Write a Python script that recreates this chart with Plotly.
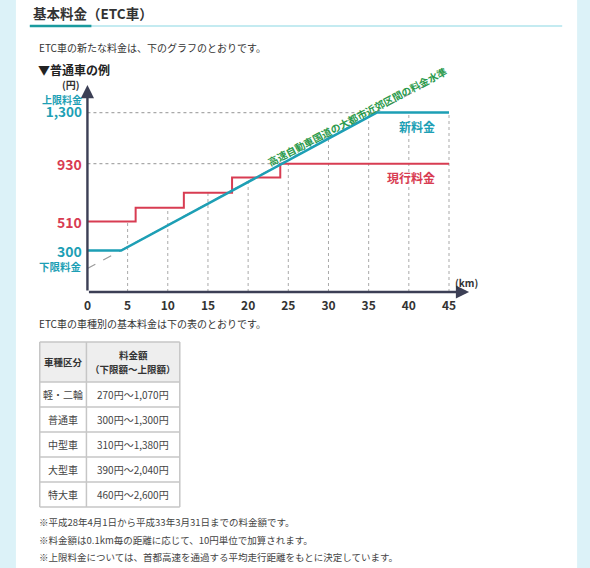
import numpy as np
import plotly.graph_objects as go

W, H = 590, 568

# 普通車の料金（グラフ）
new_km = [0, 4.2, 36, 45]
new_fee = [300, 300, 1300, 1300]
cur_km = [0, 6, 12, 18, 24, 45]
cur_fee = [510, 610, 720, 830, 930, 930]
guide_km = [0, 45]
guide_fee = [170, 1590]
grid_km = [5, 10, 15, 20, 25, 30, 35, 40, 45]
x_ticks = [0, 5, 10, 15, 20, 25, 30, 35, 40, 45]

# 車種別の基本料金（表）
vehicle_types = ["軽・二輪", "普通車", "中型車", "大型車", "特大車"]
fee_ranges = ["270円～1,070円", "300円～1,300円", "310円～1,380円",
              "390円～2,040円", "460円～2,600円"]

notes = [
    "※平成28年4月1日から平成33年3月31日までの料金額です。",
    "※料金額は0.1km毎の距離に応じて、10円単位で加算されます。",
    "※上限料金については、首都高速を通過する平均走行距離をもとに決定しています。",
]

TEAL = "#1d9fb5"
RED = "#d83c52"
GREEN = "#2b9a4c"
AXIS = "#3c3f55"
GRID = "#a9a9a9"
TEXT = "#333333"
FONT = "Noto Sans CJK JP"

KM_PX, YEN_PX = 8.09, 0.138
X_MAX, Y_MAX = 47.5, 1500


def fx(px):
    return px / W


def fy(py):
    return 1 - py / H


def step_value(km):
    i = np.searchsorted(cur_km, km, side="right") - 1
    return cur_fee[min(i, len(cur_fee) - 1)]


def page_text(px, py, text, size=10, color=TEXT, bold=False, xanchor="left"):
    return dict(x=fx(px), y=fy(py), xref="paper", yref="paper", text=text,
                showarrow=False, xanchor=xanchor, yanchor="middle",
                font=dict(size=size, color=color, family=FONT,
                          weight="bold" if bold else "normal"))


fig = go.Figure()

# 縦の点線（各距離の料金まで）
tops = [max(np.interp(k, new_km, new_fee), step_value(k)) for k in grid_km]
gx, gy = [], []
for k, t in zip(grid_km, tops):
    gx += [k, k, None]
    gy += [0, t, None]
fig.add_trace(go.Scatter(x=gx, y=gy, mode="lines", hoverinfo="skip",
                         line=dict(color=GRID, width=1, dash="dot")))

# 横の点線（上限 1,300 と 930）
cap_km = new_km[new_fee.index(max(new_fee))]
old_cap_km = cur_km[cur_fee.index(max(cur_fee))]
fig.add_trace(go.Scatter(
    x=[0, cap_km, None, 0, old_cap_km],
    y=[max(new_fee), max(new_fee), None, max(cur_fee), max(cur_fee)],
    mode="lines", hoverinfo="skip",
    line=dict(color=GRID, width=1.2, dash="dot")))

# 大都市近郊区間の料金水準
fig.add_trace(go.Scatter(x=guide_km, y=guide_fee, mode="lines", hoverinfo="skip",
                         line=dict(color="#9a9a9a", width=1.2, dash="dash")))

# 現行料金
fig.add_trace(go.Scatter(x=cur_km, y=cur_fee, mode="lines", line_shape="hv",
                         line=dict(color=RED, width=2)))
# 新料金
fig.add_trace(go.Scatter(x=new_km, y=new_fee, mode="lines",
                         line=dict(color=TEAL, width=2.5)))

ann = []
shapes = []

# 軸の矢印
for x, y in [(X_MAX, 0), (0, Y_MAX)]:
    ann.append(dict(x=x, y=y, ax=0, ay=0, xref="x", yref="y", axref="x", ayref="y",
                    text="", showarrow=True, arrowhead=2, arrowsize=1.1,
                    arrowwidth=2.4, arrowcolor=AXIS))

# y 軸ラベル（上限料金と 1,300 は 2 行で 1 つの注記に）
cap_label = "上限料金<br><span style='font-size:13.5px'>{:,}</span>".format(max(new_fee))
ylabels = [
    (cap_label, max(new_fee), 6.5, TEAL, 10),
    ("930", max(cur_fee), 0, RED, 14),
    ("510", cur_fee[0], 0, RED, 14),
    ("300", new_fee[0], 0, TEAL, 14),
    ("下限料金", new_fee[0], -16, TEAL, 10.5),
]
for txt, val, shift, col, size in ylabels:
    ann.append(dict(x=fx(81), y=val, xref="paper", yref="y", yshift=shift,
                    text=txt, showarrow=False, xanchor="right", yanchor="middle",
                    align="right",
                    font=dict(size=size, color=col, family=FONT, weight="bold")))
ann.append(page_text(79, 85, "(円)", 10, TEXT, True, "right"))
ann.append(page_text(466, 283, "(km)", 10, TEXT, True, "center"))

# 系列名
ann.append(dict(x=41, y=1196, xref="x", yref="y", text="新料金", showarrow=False,
                xanchor="center", yanchor="middle",
                font=dict(size=12, color=TEAL, family=FONT, weight="bold")))
ann.append(dict(x=40.3, y=833, xref="x", yref="y", text="現行料金", showarrow=False,
                xanchor="center", yanchor="middle",
                font=dict(size=12, color=RED, family=FONT, weight="bold")))
ann.append(dict(x=33.5, y=1275, xref="x", yref="y",
                text="高速自動車国道の大都市近郊区間の料金水準", showarrow=False,
                textangle=-27.5, xanchor="center", yanchor="middle",
                font=dict(size=10, color=GREEN, family=FONT, weight="bold")))

# ページの文字
ann.append(page_text(27, 13, "基本料金（ETC車）", 13.5, TEXT, True))
ann.append(page_text(33, 47, "ETC車の新たな料金は、下のグラフのとおりです。", 10))
ann.append(page_text(32, 69, "▼普通車の例", 12, "#222222", True))
ann.append(page_text(33, 323, "ETC車の車種別の基本料金は下の表のとおりです。", 10))
for i, n in enumerate(notes):
    ann.append(page_text(33, 522 + 17.5 * i, n, 9.5, "#444444"))

# 背景と見出しの下線
shapes.append(dict(type="rect", xref="paper", yref="paper", x0=fx(12), x1=fx(577),
                   y0=0, y1=1, fillcolor="white", line=dict(width=0), layer="below"))
shapes.append(dict(type="line", xref="paper", yref="paper", x0=fx(26), x1=fx(562),
                   y0=fy(26), y1=fy(26), line=dict(color="#c4ebf1", width=2)))
shapes.append(dict(type="line", xref="paper", yref="paper", x0=fx(26), x1=fx(88),
                   y0=fy(26), y1=fy(26), line=dict(color="#1a9a9e", width=2.5)))

# 表
tl, tm, tr = 36, 83, 177
rows_y = [342, 382] + [382 + 25 * (i + 1) for i in range(len(vehicle_types))]
shapes.append(dict(type="rect", xref="paper", yref="paper", x0=fx(tl), x1=fx(tr),
                   y0=fy(rows_y[0]), y1=fy(rows_y[1]), fillcolor="#eeeeee",
                   line=dict(width=0), layer="below"))
border = dict(color="#c6c6c6", width=1.5)
for ry in rows_y:
    shapes.append(dict(type="line", xref="paper", yref="paper", x0=fx(tl), x1=fx(tr),
                       y0=fy(ry), y1=fy(ry), line=border))
for cx in [tl, tm, tr]:
    shapes.append(dict(type="line", xref="paper", yref="paper", x0=fx(cx), x1=fx(cx),
                       y0=fy(rows_y[0]), y1=fy(rows_y[-1]), line=border))
c1, c2 = (tl + tm) / 2, (tm + tr) / 2
ann.append(page_text(c1, 362, "車種区分", 9.5, TEXT, True, "center"))
ann.append(page_text(c2, 355, "料金額", 9.5, TEXT, True, "center"))
ann.append(page_text(c2, 369, "（下限額～上限額）", 9.5, TEXT, True, "center"))
for i, (vt, fr) in enumerate(zip(vehicle_types, fee_ranges)):
    yc = (rows_y[i + 1] + rows_y[i + 2]) / 2
    ann.append(page_text(c1, yc, vt, 10, "#444444", False, "center"))
    ann.append(page_text(c2, yc, fr, 10, "#444444", False, "center"))

fig.update_layout(
    width=W, height=H,
    margin=dict(l=0, r=0, t=0, b=0),
    paper_bgcolor="#dcf2f8",
    plot_bgcolor="rgba(0,0,0,0)",
    showlegend=False,
    font=dict(family=FONT, color=TEXT),
    xaxis=dict(domain=[fx(84), fx(84 + X_MAX * KM_PX)], range=[0, X_MAX],
               tickvals=x_ticks, ticks="", showgrid=False, zeroline=False,
               showline=False, ticklabelstandoff=5,
               tickfont=dict(size=12, color=TEXT, family=FONT, weight="bold")),
    yaxis=dict(domain=[fy(292), fy(292 - Y_MAX * YEN_PX)], range=[0, Y_MAX],
               showticklabels=False, showgrid=False, zeroline=False, showline=False),
    annotations=ann,
    shapes=shapes,
)

fig.write_html("out.html", config={"displayModeBar": False},
               post_script="document.body.style.margin='0';")
